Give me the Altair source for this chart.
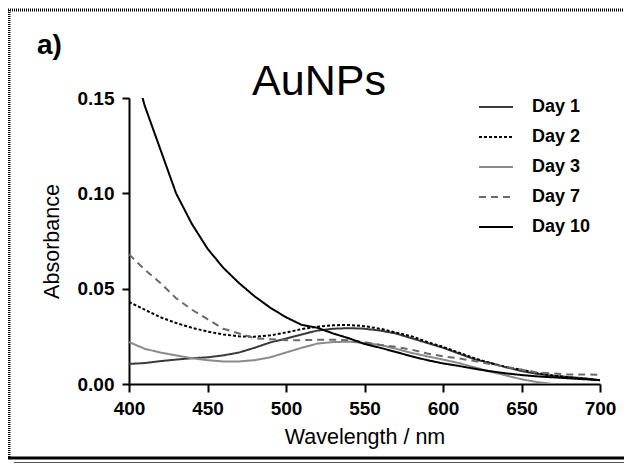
import altair as alt
import pandas as pd

wavelength = list(range(400, 701, 10))

day1 = [0.0105, 0.011, 0.012, 0.0128, 0.0135, 0.014, 0.015, 0.0165, 0.019, 0.0218, 0.0238,
        0.026, 0.028, 0.029, 0.0293, 0.029, 0.028, 0.0265, 0.024, 0.0215, 0.019, 0.016,
        0.013, 0.011, 0.0088, 0.0068, 0.0053, 0.0043, 0.0037, 0.003, 0.002]
day2 = [0.043, 0.039, 0.035, 0.032, 0.0295, 0.0275, 0.026, 0.025, 0.0248, 0.0255, 0.027,
        0.0288, 0.030, 0.0308, 0.031, 0.0303, 0.029, 0.027, 0.025, 0.022, 0.0195, 0.0165,
        0.0135, 0.011, 0.009, 0.0075, 0.0058, 0.0045, 0.0035, 0.0028, 0.002]
day3 = [0.022, 0.0185, 0.0165, 0.015, 0.0135, 0.0125, 0.0118, 0.0118, 0.0125, 0.014, 0.0165,
        0.019, 0.0212, 0.022, 0.0222, 0.0215, 0.0205, 0.0185, 0.0163, 0.0145, 0.0128, 0.011,
        0.0088, 0.0065, 0.0045, 0.0025, 0.001, 0.0]
day7 = [0.068, 0.060, 0.053, 0.045, 0.039, 0.034, 0.029, 0.0265, 0.024, 0.0235, 0.023,
        0.023, 0.0232, 0.0232, 0.023, 0.022, 0.0205, 0.0195, 0.018, 0.016, 0.0145, 0.0135,
        0.012, 0.0105, 0.009, 0.0075, 0.006, 0.0055, 0.005, 0.005, 0.0048]
day10 = [0.175, 0.146, 0.123, 0.100, 0.084, 0.071, 0.061, 0.053, 0.046, 0.040, 0.035,
         0.031, 0.0295, 0.0265, 0.024, 0.021, 0.019, 0.0168, 0.0145, 0.0125, 0.0108, 0.0095,
         0.008, 0.0067, 0.0056, 0.0047, 0.004, 0.0035, 0.003, 0.0025, 0.002]

series_names = ["Day 1", "Day 2", "Day 3", "Day 7", "Day 10"]
series_values = [day1, day2, day3, day7, day10]
series_colors = ["#3a3a3a", "#000000", "#8a8a8a", "#6a6a6a", "#000000"]
series_dash = [[1, 0], [3, 2], [1, 0], [7, 5], [1, 0]]
series_width = [2, 2, 2.5, 2, 2.5]

rows = []
for name, vals in zip(series_names, series_values):
    for w, v in zip(wavelength, vals):
        rows.append({"Wavelength": w, "Absorbance": v, "Series": name})
df = pd.DataFrame(rows)

FONT = "Liberation Sans"

legend = alt.Legend(
    title=None, orient="none", legendX=349, legendY=-9,
    symbolType="stroke", symbolSize=1156, symbolStrokeWidth=2.5,
    labelFont=FONT, labelFontSize=18, labelFontWeight="bold", labelColor="black",
    labelOffset=18, rowPadding=3, symbolStrokeColor="black",
)

lines = alt.Chart(df).mark_line(clip=True).encode(
    x=alt.X("Wavelength:Q",
            scale=alt.Scale(domain=[400, 700], nice=False),
            axis=alt.Axis(values=[400, 450, 500, 550, 600, 650, 700], title="Wavelength / nm",
                          titleY=53, titleBaseline="middle", labelFlush=False)),
    y=alt.Y("Absorbance:Q",
            scale=alt.Scale(domain=[0, 0.15], nice=False),
            axis=alt.Axis(values=[0, 0.05, 0.10, 0.15], format=".2f", title="Absorbance",
                          titleX=-77, titleY=143, titleAngle=-90, titleBaseline="middle",
                          titleAlign="center", labelFlush=False)),
    color=alt.Color("Series:N", sort=series_names,
                    scale=alt.Scale(domain=series_names, range=series_colors), legend=legend),
    strokeDash=alt.StrokeDash("Series:N", sort=series_names,
                              scale=alt.Scale(domain=series_names, range=series_dash), legend=legend),
    strokeWidth=alt.StrokeWidth("Series:N", sort=series_names,
                                scale=alt.Scale(domain=series_names, range=series_width), legend=legend),
    order=alt.Order("Wavelength:Q"),
)

label_df = pd.DataFrame({"t": ["a)"]})
panel_label = alt.Chart(label_df).mark_text(
    font=FONT, fontSize=28, fontWeight="bold", align="left", baseline="alphabetic", clip=False
).encode(text="t:N", x=alt.value(-92), y=alt.value(-44))

title_df = pd.DataFrame({"t": ["AuNPs"]})
title_mark = alt.Chart(title_df).mark_text(
    font=FONT, fontSize=43, fontWeight="normal", align="center", baseline="alphabetic",
    color="black", clip=False
).encode(text="t:N", x=alt.value(190), y=alt.value(-3))

border_df = pd.DataFrame({"k": ["b"]})
top_border = alt.Chart(border_df).mark_rule(color="black", strokeWidth=3, strokeDash=[1, 1]).encode(
    x=alt.value(-121), x2=alt.value(495), y=alt.value(-88))
left_border = alt.Chart(border_df).mark_rule(color="black", strokeWidth=3, strokeDash=[1, 1]).encode(
    x=alt.value(-120), y=alt.value(-88), y2=alt.value(360))
bottom_thick = alt.Chart(border_df).mark_rule(color="black", strokeWidth=3).encode(
    x=alt.value(-121), x2=alt.value(495), y=alt.value(360))
bottom_thin = alt.Chart(border_df).mark_rule(color="#555555", strokeWidth=1).encode(
    x=alt.value(-115), x2=alt.value(495), y=alt.value(364.5))

chart = alt.layer(lines, panel_label, title_mark, top_border, left_border, bottom_thick,
                  bottom_thin).properties(
    width=471, height=286,
    autosize=alt.AutoSizeParams(type="none"),
    padding={"left": 121, "top": 90, "right": 24, "bottom": 79},
).configure_view(stroke=None).configure_axis(
    domainColor="black", domainWidth=2, tickColor="black", tickWidth=2, tickSize=7,
    labelFont=FONT, labelFontSize=19, labelFontWeight="bold", labelColor="black", labelPadding=8,
    titleFont=FONT, titleFontSize=21.5, titleFontWeight="normal", titleColor="black",
    grid=False,
).configure_axisX(labelPadding=7, tickSize=8)

chart.save("out.html", embed_options={"renderer": "svg", "actions": False})
